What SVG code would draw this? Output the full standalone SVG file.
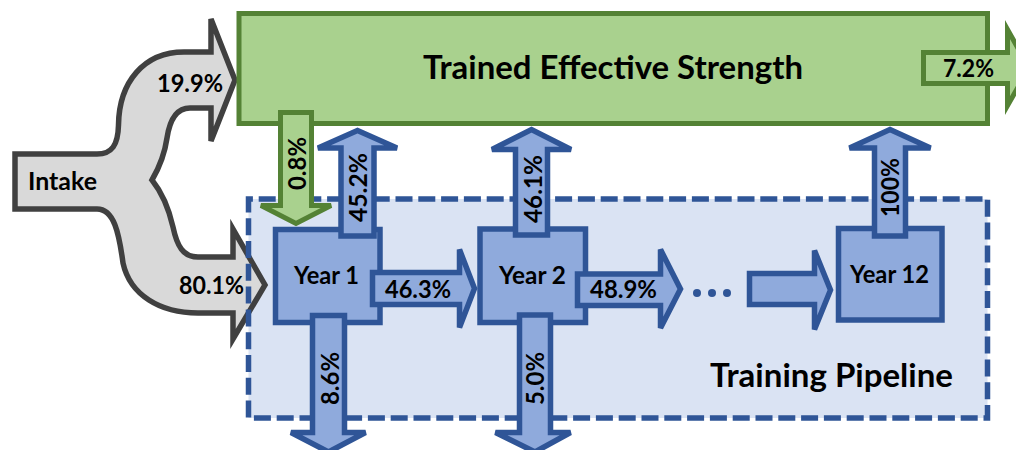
<svg xmlns="http://www.w3.org/2000/svg" width="1016" height="450" viewBox="0 0 1016 450">
  <style>
    text { font-family: Lato, "Open Sans", "Liberation Sans", sans-serif; font-weight: bold; fill: #000; }
    .big { font-size: 31.5px; text-anchor: middle; }
    .lbl { font-size: 24px; text-anchor: middle; }
    .vlbl { font-size: 24.5px; text-anchor: middle; }
    .blue { fill: #8faadc; stroke: #2f5597; stroke-width: 5.5; stroke-linejoin: miter; }
    .green { fill: #a9d18e; stroke: #548235; stroke-width: 5; stroke-linejoin: miter; }
    .gray { fill: #d9d9d9; stroke: #404040; stroke-width: 5.5; stroke-linejoin: miter; }
  </style>

  <!-- training pipeline container: fill first, dashed border above the intake arrow -->
  <rect id="pipeline-fill" x="248.5" y="199" width="739" height="219" fill="#dae3f3"/>

  <!-- intake split arrow -->
  <g id="intake">
    <path class="gray" d="M15,154 H97 C112,154 118,145 118.5,125 C119,82 144,52 184,52 H211 V19 L235,80 L211,141 V108 H190 C177,108 170,118 167,138 C165,152 159,168 152,180 C160,190 168,205 173,227 C177,246 183,257 198,257 H233 V229 L265,285 L233,339 V313 H198 C160,313 130,295 123,263 C119,233 114,209 97,209 H15 Z"/>
    <text class="lbl" x="62.5" y="190" textLength="69" lengthAdjust="spacingAndGlyphs">Intake</text>
    <text class="lbl" x="190" y="92" textLength="66" lengthAdjust="spacingAndGlyphs">19.9%</text>
    <text class="lbl" x="211.5" y="294" textLength="65" lengthAdjust="spacingAndGlyphs">80.1%</text>
  </g>

  <g id="pipeline">
    <rect x="248.5" y="199" width="739" height="219" fill="none" stroke="#2f5597" stroke-width="5.5" stroke-dasharray="17 5.8" stroke-dashoffset="12.6"/>
    <text class="big" x="831.5" y="387" textLength="243" lengthAdjust="spacingAndGlyphs">Training Pipeline</text>
  </g>

  <g id="strength">
    <rect class="green" x="239" y="13.5" width="748.5" height="110"/>
    <text class="big" x="613" y="79" textLength="380" lengthAdjust="spacingAndGlyphs">Trained Effective Strength</text>
  </g>

  <g id="year1">
    <rect class="blue" x="275.5" y="229.5" width="104.5" height="93"/>
    <text class="lbl" x="326.5" y="284" textLength="65" lengthAdjust="spacingAndGlyphs">Year 1</text>
  </g>
  <g id="year2">
    <rect class="blue" x="480" y="229" width="105.5" height="93.5"/>
    <text class="lbl" x="532.5" y="284" textLength="67" lengthAdjust="spacingAndGlyphs">Year 2</text>
  </g>
  <g id="year12">
    <rect class="blue" x="838.5" y="228.5" width="103.5" height="91.5"/>
    <text class="lbl" x="889.5" y="283" textLength="79" lengthAdjust="spacingAndGlyphs">Year 12</text>
  </g>

  <g id="connectors">
    <!-- Trained strength -> Year 1 -->
    <path class="green" d="M280.5,112.5 H311.5 V205.5 H331 L296,223.5 L261,205.5 H280.5 Z"/>
    <text class="vlbl" transform="translate(306 163.5) rotate(-90)" textLength="53" lengthAdjust="spacingAndGlyphs">0.8%</text>

    <!-- Trained strength outflow -->
    <path class="green" d="M923.5,52.5 H1007.5 V29.5 L1029,68 L1007.5,105.5 V83.5 H923.5 Z"/>
    <text class="lbl" x="968.5" y="77" textLength="51" lengthAdjust="spacingAndGlyphs">7.2%</text>

    <!-- Year 1 -> Trained strength -->
    <path class="blue" d="M341,236 V148 H318 L357.5,130.5 L397,148 H374 V236 Z"/>
    <text class="vlbl" transform="translate(367 187.5) rotate(-90)" textLength="69" lengthAdjust="spacingAndGlyphs">45.2%</text>

    <!-- Year 2 -> Trained strength -->
    <path class="blue" d="M515.5,235 V149.5 H492 L531.5,129.5 L571,149.5 H547.5 V235 Z"/>
    <text class="vlbl" transform="translate(542 189) rotate(-90)" textLength="68" lengthAdjust="spacingAndGlyphs">46.1%</text>

    <!-- Year 12 -> Trained strength -->
    <path class="blue" d="M874.5,236 V148 H849.5 L890,129.5 L930.5,148 H905.5 V236 Z"/>
    <text class="vlbl" transform="translate(899 187.5) rotate(-90)" textLength="59" lengthAdjust="spacingAndGlyphs">100%</text>

    <!-- Year 1 wastage -->
    <path class="blue" d="M312.5,315.5 H344.5 V432.5 H365.5 L328.5,452 L291,432.5 H312.5 Z"/>
    <text class="vlbl" transform="translate(339 378.5) rotate(-90)" textLength="53" lengthAdjust="spacingAndGlyphs">8.6%</text>

    <!-- Year 2 wastage -->
    <path class="blue" d="M519.5,315 H550.5 V432.5 H570.5 L535,452 L495.5,432.5 H519.5 Z"/>
    <text class="vlbl" transform="translate(544 378.5) rotate(-90)" textLength="53" lengthAdjust="spacingAndGlyphs">5.0%</text>

    <!-- Year 1 -> Year 2 -->
    <path class="blue" d="M372.5,272.5 H459.5 V249.5 L474.5,288.5 L459.5,327.5 V304.5 H372.5 Z"/>
    <text class="lbl" x="418" y="298" textLength="66" lengthAdjust="spacingAndGlyphs">46.3%</text>

    <!-- Year 2 -> onward -->
    <path class="blue" d="M577.5,274 H660.5 V249.5 L680.5,289 L660.5,328 V305.5 H577.5 Z"/>
    <text class="lbl" x="623.5" y="298" textLength="67" lengthAdjust="spacingAndGlyphs">48.9%</text>

    <circle cx="697" cy="293" r="4" fill="#2f5597"/>
    <circle cx="712" cy="293" r="4" fill="#2f5597"/>
    <circle cx="727" cy="293" r="4" fill="#2f5597"/>

    <!-- onward -> Year 12 -->
    <path class="blue" d="M749.5,273.5 H814.5 V250.5 L830.5,290 L814.5,329.5 V304.5 H749.5 Z"/>
  </g>
</svg>
